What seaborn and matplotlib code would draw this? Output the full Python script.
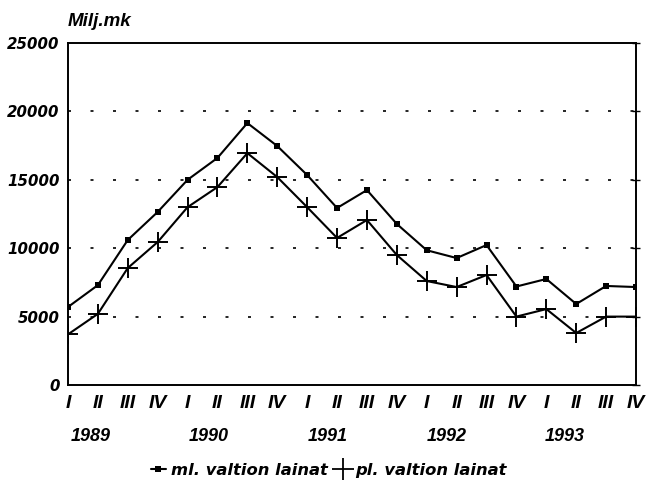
import numpy as np
import pandas as pd
import matplotlib
matplotlib.use('Agg')
import matplotlib.pyplot as plt
import seaborn as sns
from matplotlib.lines import Line2D

quarters = ['I', 'II', 'III', 'IV'] * 5
years = ['1989', '1990', '1991', '1992', '1993']
ml_valtion = [5700, 7300, 10600, 12650, 15000, 16600, 19150, 17470,
              15350, 12940, 14250, 11770, 9850, 9280, 10230, 7200,
              7750, 5920, 7240, 7160]
pl_valtion = [3700, 5200, 8550, 10450, 13000, 14470, 16950, 15200,
              13000, 10750, 12060, 9500, 7600, 7160, 8040, 5000,
              5550, 3800, 5000, 5000]

sns.set_style('white')
plt.rcParams['font.family'] = ['DejaVu Sans']
plt.rcParams['text.color'] = 'black'
plt.rcParams['xtick.color'] = 'black'
plt.rcParams['ytick.color'] = 'black'

df = pd.DataFrame({
    'x': np.arange(len(quarters)),
    'ml': ml_valtion,
    'pl': pl_valtion,
})

fig = plt.figure(figsize=(6.58, 4.90), dpi=100)
ax = fig.add_axes([0.1033, 0.2143, 0.8633, 0.6979])

sns.lineplot(data=df, x='x', y='ml', ax=ax, color='black', linewidth=1.5,
             marker='s', markersize=4.5, markeredgewidth=0)
sns.lineplot(data=df, x='x', y='pl', ax=ax, color='black', linewidth=1.5,
             marker='+', markersize=14, markeredgewidth=1.4,
             markeredgecolor='black')

ax.set_xlim(0, len(quarters) - 1)
ax.set_ylim(0, 25000)
ax.set_yticks([0, 5000, 10000, 15000, 20000, 25000])
ax.set_xticks(df['x'])
ax.set_xticklabels(quarters)
ax.set_xlabel('')
ax.set_ylabel('')

for y in [5000, 10000, 15000, 20000]:
    ax.axhline(y, color='black', linewidth=1.2, linestyle=(0, (1.8, 11.7)),
               zorder=0)

for s in ax.spines.values():
    s.set_visible(True)
    s.set_color('black')
    s.set_linewidth(1.4)

ax.tick_params(axis='x', direction='in', length=5, width=1, pad=7,
               labelcolor='black')
ax.tick_params(axis='y', direction='inout', length=6, width=1, pad=3,
               right=True, labelcolor='black')
for lab in ax.get_xticklabels():
    lab.set_family('Liberation Sans')
    lab.set_fontsize(14)
    lab.set_fontweight('bold')
    lab.set_fontstyle('italic')
for lab in ax.get_yticklabels():
    lab.set_fontsize(10.8)
    lab.set_fontweight('bold')
    lab.set_fontstyle('italic')

for i, yr in enumerate(years):
    ax.text(3.97 * i + 0.75, -3800, yr, ha='center', va='center',
            family='Liberation Sans', fontsize=13, fontweight='bold',
            fontstyle='italic', color='black')

fig.text(68 / 658, 1 - 22 / 490, 'Milj.mk', ha='left', va='center',
         family='Liberation Sans', fontsize=13.5, fontweight='bold',
         fontstyle='italic', color='black')

handles = [
    Line2D([], [], color='black', linewidth=1.5, marker='s', markersize=4.5,
           markeredgewidth=0),
    Line2D([], [], color='black', linestyle='none', marker='+', markersize=16,
           markeredgewidth=1.3),
]
leg = fig.legend(handles, ['ml. valtion lainat', 'pl. valtion lainat'],
                 loc='center', bbox_to_anchor=(0.5, 1 - 470 / 490), ncol=2,
                 frameon=False, handlelength=0.9, handletextpad=0.3,
                 columnspacing=0.5,
                 prop={'weight': 'bold', 'style': 'italic', 'size': 11.8})
for t in leg.get_texts():
    t.set_color('black')

fig.savefig('out.png', dpi=100)
